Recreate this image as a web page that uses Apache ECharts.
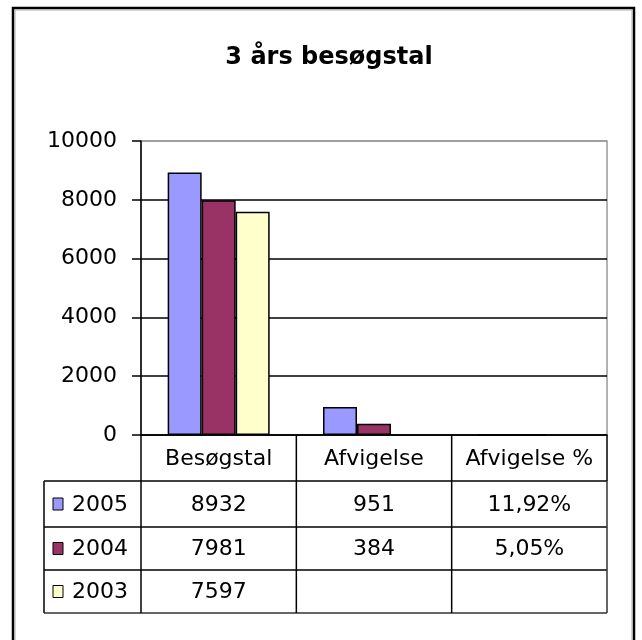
<!DOCTYPE html>
<html>
<head>
<meta charset="utf-8">
<script src="https://cdn.jsdelivr.net/npm/echarts@6/dist/echarts.min.js"></script>
<style>
  html, body { margin: 0; padding: 0; background: #fff; }
  #chart { width: 642px; height: 640px; }
</style>
</head>
<body>
<div id="chart"></div>
<script>
  // data
  var categories = ['Besøgstal', 'Afvigelse', 'Afvigelse %']
  var years = ['2005', '2004', '2003']
  var besoegstal = [8932, 7981, 7597]
  var afvigelse = [951, 384, null]
  var afvigelsePct = [11.92, 5.05, null]
  var yTicks = [0, 2000, 4000, 6000, 8000, 10000]
  var colors = ['#9999ff', '#993366', '#ffffcc']

  var FONT = 'DejaVu Sans'
  // plot / table layout
  var L = 141, R = 607, B = 435, T = 141, TL = 44
  var rowLines = [481, 527, 570, 613]
  var colW = (R - L) / categories.length

  function pctText (v) {
    return v == null ? '' : v.toFixed(2).replace('.', ',') + '%'
  }

  function getSeries () {
    var series = []
    for (var i = 0; i < years.length; i++) {
      var pct = afvigelsePct[i] == null ? null : afvigelsePct[i] / 100
      series.push({
        name: years[i],
        type: 'bar',
        barWidth: 34,
        barGap: '0%',
        data: [besoegstal[i], afvigelse[i], pct],
        itemStyle: {
          color: colors[i],
          borderColor: '#000',
          borderWidth: 1.5,
        },
        z: 3,
      })
    }
    return series
  }

  function getTable () {
    var els = []
    var line = function (x1, y1, x2, y2, c) {
      els.push({
        type: 'line',
        shape: {x1: x1, y1: y1, x2: x2, y2: y2},
        style: {stroke: c || '#000', lineWidth: 1.5},
        z: 10,
      })
    }
    var text = function (s, x, y, align) {
      els.push({
        type: 'text',
        x: x,
        y: y,
        style: {
          text: s,
          font: '22px "' + FONT + '"',
          fill: '#000',
          align: align || 'center',
          verticalAlign: 'middle',
        },
        z: 10,
      })
    }
    // header row verticals
    for (var c = 0; c <= categories.length; c++) {
      line(L + c * colW, B, L + c * colW, rowLines[0])
    }
    // body grid
    for (var r = 0; r < rowLines.length; r++) {
      line(TL, rowLines[r], R, rowLines[r], r === rowLines.length - 1 ? '#333' : '#000')
    }
    var xs = [TL, L, L + colW, L + 2 * colW, R]
    for (var k = 0; k < xs.length; k++) {
      line(xs[k], rowLines[0], xs[k], rowLines[rowLines.length - 1], k === xs.length - 1 ? '#333' : '#000')
    }
    // header labels
    for (var h = 0; h < categories.length; h++) {
      text(categories[h], L + (h + 0.5) * colW, (B + rowLines[0]) / 2 + 1)
    }
    // rows
    for (var i = 0; i < years.length; i++) {
      var cy = (rowLines[i] + rowLines[i + 1]) / 2
      els.push({
        type: 'rect',
        shape: {x: 53, y: cy - 6, width: 10, height: 12},
        style: {fill: colors[i], stroke: '#000', lineWidth: 1},
        z: 10,
      })
      text(years[i], 72, cy + 1, 'left')
      text(String(besoegstal[i]), L + 0.5 * colW, cy + 1)
      text(afvigelse[i] == null ? '' : String(afvigelse[i]), L + 1.5 * colW, cy + 1)
      text(pctText(afvigelsePct[i]), L + 2.5 * colW, cy + 1)
    }
    // outer frame
    els.push({
      type: 'rect',
      shape: {x: 13, y: 8, width: 621, height: 645},
      style: {fill: 'none', stroke: '#000', lineWidth: 2.5},
      z: 10,
    })
    els.push({
      type: 'rect',
      shape: {x: 15, y: 10, width: 617, height: 645},
      style: {fill: 'none', stroke: '#aaa', lineWidth: 1},
      z: 10,
    })
    return els
  }

  var chart = echarts.init(document.getElementById('chart'), null, {renderer: 'canvas'})
  var option = {
    backgroundColor: '#fff',
    animation: false,
    title: {
      text: '3 års besøgstal',
      left: 324,
      top: 41,
      textAlign: 'center',
      textStyle: {
        fontFamily: FONT,
        fontSize: 24,
        fontWeight: 'bold',
        color: '#000',
      },
    },
    grid: {
      left: L,
      right: 642 - R,
      top: T,
      bottom: 640 - B,
      show: true,
      borderColor: '#999',
      borderWidth: 1.5,
      backgroundColor: '#fff',
    },
    xAxis: {
      type: 'category',
      data: categories,
      axisLine: {show: true, lineStyle: {color: '#000', width: 1.5}},
      axisTick: {show: false},
      axisLabel: {show: false},
      splitLine: {show: false},
    },
    yAxis: {
      type: 'value',
      min: yTicks[0],
      max: yTicks[yTicks.length - 1],
      interval: yTicks[1] - yTicks[0],
      axisLine: {show: true, lineStyle: {color: '#000', width: 1.5}},
      axisTick: {show: true, length: 9, lineStyle: {color: '#000', width: 1.5}},
      axisLabel: {
        margin: 24,
        fontFamily: FONT,
        fontSize: 22,
        color: '#000',
        formatter: function (v) { return String(v) },
      },
      splitLine: {
        show: true,
        lineStyle: {color: ['#000', '#000', '#000', '#000', '#000', '#999'], width: 1.5},
      },
    },
    series: getSeries(),
    graphic: getTable(),
  }
  chart.setOption(option)
</script>
</body>
</html>
